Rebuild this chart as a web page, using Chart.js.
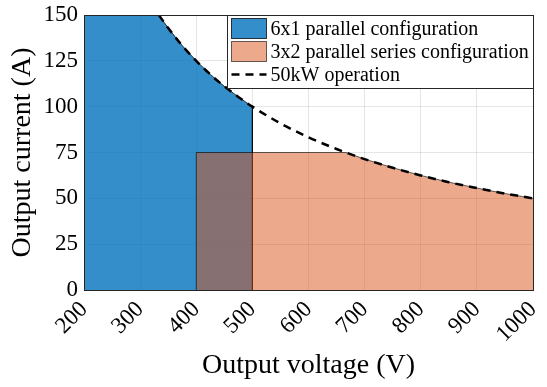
<!DOCTYPE html>
<html>
<head>
<meta charset="utf-8">
<script src="https://cdn.jsdelivr.net/npm/chart.js@4/dist/chart.umd.min.js"></script>
<style>
  html, body { margin: 0; padding: 0; background: #fff; }
  #wrap { width: 547px; height: 387px; }
</style>
</head>
<body>
<div id="wrap"><canvas id="c" width="547" height="387"></canvas></div>
<script>
// Operating envelope of the converter modules (voltage in V, current in A)
const parallelV = [200, 333.3, 350, 375, 400, 425, 450, 475, 500, 500];
const parallelI = [150, 150, 142.9, 133.3, 125, 117.6, 111.1, 105.3, 100, 0];

const seriesV = [400, 400, 666.7, 700, 750, 800, 850, 900, 950, 1000];
const seriesI = [0, 75, 75, 71.4, 66.7, 62.5, 58.8, 55.6, 52.6, 50];

const powerV = [333.3, 350, 375, 400, 425, 450, 475, 500, 550, 600, 650, 700, 750, 800, 850, 900, 950, 1000];
const powerI = [150, 142.9, 133.3, 125, 117.6, 111.1, 105.3, 100, 90.9, 83.3, 76.9, 71.4, 66.7, 62.5, 58.8, 55.6, 52.6, 50];

const xTicks = [200, 300, 400, 500, 600, 700, 800, 900, 1000];
const yTicks = [0, 25, 50, 75, 100, 125, 150];

const seriesNames = ['6x1 parallel configuration', '3x2 parallel series configuration', '50kW operation'];

const FONT = '"Liberation Serif", "DejaVu Serif", serif';

const pts = (xs, ys) => xs.map((x, i) => ({ x: x, y: ys[i] }));

// Box around the axes
const boxPlugin = {
  id: 'box',
  afterDatasetsDraw(chart) {
    const { ctx, chartArea: a } = chart;
    ctx.save();
    ctx.strokeStyle = '#262626';
    ctx.lineWidth = 1;
    ctx.strokeRect(Math.round(a.left) + 0.5, Math.round(a.top) + 0.5,
                   Math.round(a.right - a.left), Math.round(a.bottom - a.top));
    ctx.restore();
  }
};

// Legend drawn inside the top-right corner of the plot area
const insideLegend = {
  id: 'insideLegend',
  afterDraw(chart) {
    const { ctx, chartArea: a } = chart;
    const ds = chart.data.datasets;
    const w = 306, rowH = 23, h = 73;
    const x0 = Math.round(a.right - w) + 0.5, y0 = Math.round(a.top) + 0.5;
    ctx.save();
    ctx.fillStyle = '#fff';
    ctx.fillRect(x0, y0, w, h);
    ctx.strokeStyle = '#262626';
    ctx.lineWidth = 1;
    ctx.strokeRect(x0, y0, w, h);
    ctx.font = '20px ' + FONT;
    ctx.textBaseline = 'middle';
    ds.forEach((d, i) => {
      const cy = y0 + 13 + i * rowH;
      if (d.fill) {
        ctx.fillStyle = '#fff';
        ctx.fillRect(x0 + 4, cy - 10, 35, 20);
        ctx.fillStyle = d.backgroundColor;
        ctx.fillRect(x0 + 4, cy - 10, 35, 20);
        ctx.strokeStyle = d.borderColor;
        ctx.strokeRect(x0 + 4, cy - 10, 35, 20);
      } else {
        ctx.strokeStyle = d.borderColor;
        ctx.lineWidth = d.borderWidth;
        ctx.setLineDash(d.borderDash);
        ctx.beginPath();
        ctx.moveTo(x0 + 4, cy);
        ctx.lineTo(x0 + 39, cy);
        ctx.stroke();
        ctx.setLineDash([]);
        ctx.lineWidth = 1;
      }
      ctx.fillStyle = '#000';
      ctx.fillText(d.label, x0 + 43, cy + 1);
    });
    ctx.restore();
  }
};

new Chart(document.getElementById('c'), {
  type: 'line',
  data: {
    datasets: [
      {
        label: seriesNames[0],
        data: pts(parallelV, parallelI),
        fill: 'origin',
        order: 3,
        backgroundColor: 'rgba(0,114,189,0.8)',
        borderColor: 'rgba(0,0,0,0.75)',
        borderWidth: 1,
        pointRadius: 0,
        tension: 0
      },
      {
        label: seriesNames[1],
        data: pts(seriesV, seriesI),
        fill: 'origin',
        order: 2,
        backgroundColor: 'rgba(217,83,25,0.5)',
        borderColor: 'rgba(0,0,0,0.6)',
        borderWidth: 1,
        pointRadius: 0,
        tension: 0
      },
      {
        label: seriesNames[2],
        data: pts(powerV, powerI),
        fill: false,
        order: 1,
        borderColor: '#000',
        borderWidth: 2.5,
        borderDash: [8, 6],
        pointRadius: 0,
        cubicInterpolationMode: 'monotone'
      }
    ]
  },
  options: {
    responsive: false,
    animation: false,
    devicePixelRatio: 1,
    layout: { padding: { top: 15, right: 14, left: 0, bottom: 0 } },
    plugins: { legend: { display: false }, tooltip: { enabled: false } },
    scales: {
      x: {
        type: 'linear',
        min: 200, max: 1000,
        afterBuildTicks: s => { s.ticks = xTicks.map(v => ({ value: v })); },
        afterFit: s => { s.height = 97; s.paddingLeft = 0; s.paddingRight = 0; },
        grid: { color: 'rgba(0,0,0,0.1)', drawTicks: false },
        border: { display: false },
        ticks: {
          minRotation: 45, maxRotation: 45, padding: 6,
          color: '#000', font: { family: FONT, size: 23 },
          callback: v => String(v)
        },
        title: {
          display: true, text: 'Output voltage (V)', color: '#000',
          font: { family: FONT, size: 28 }, padding: { top: 2, bottom: 5 }
        }
      },
      y: {
        min: 0, max: 150,
        afterBuildTicks: s => { s.ticks = yTicks.map(v => ({ value: v })); },
        afterFit: s => { s.width = 84; s.paddingTop = 0; s.paddingBottom = 0; },
        grid: { color: 'rgba(0,0,0,0.1)', drawTicks: false },
        border: { display: false },
        ticks: { padding: 6, color: '#000', font: { family: FONT, size: 23 }, callback: v => String(v) },
        title: {
          display: true, text: 'Output current (A)', color: '#000',
          font: { family: FONT, size: 28 }, padding: { top: 6, bottom: 0 }
        }
      }
    }
  },
  plugins: [boxPlugin, insideLegend]
});
</script>
</body>
</html>
